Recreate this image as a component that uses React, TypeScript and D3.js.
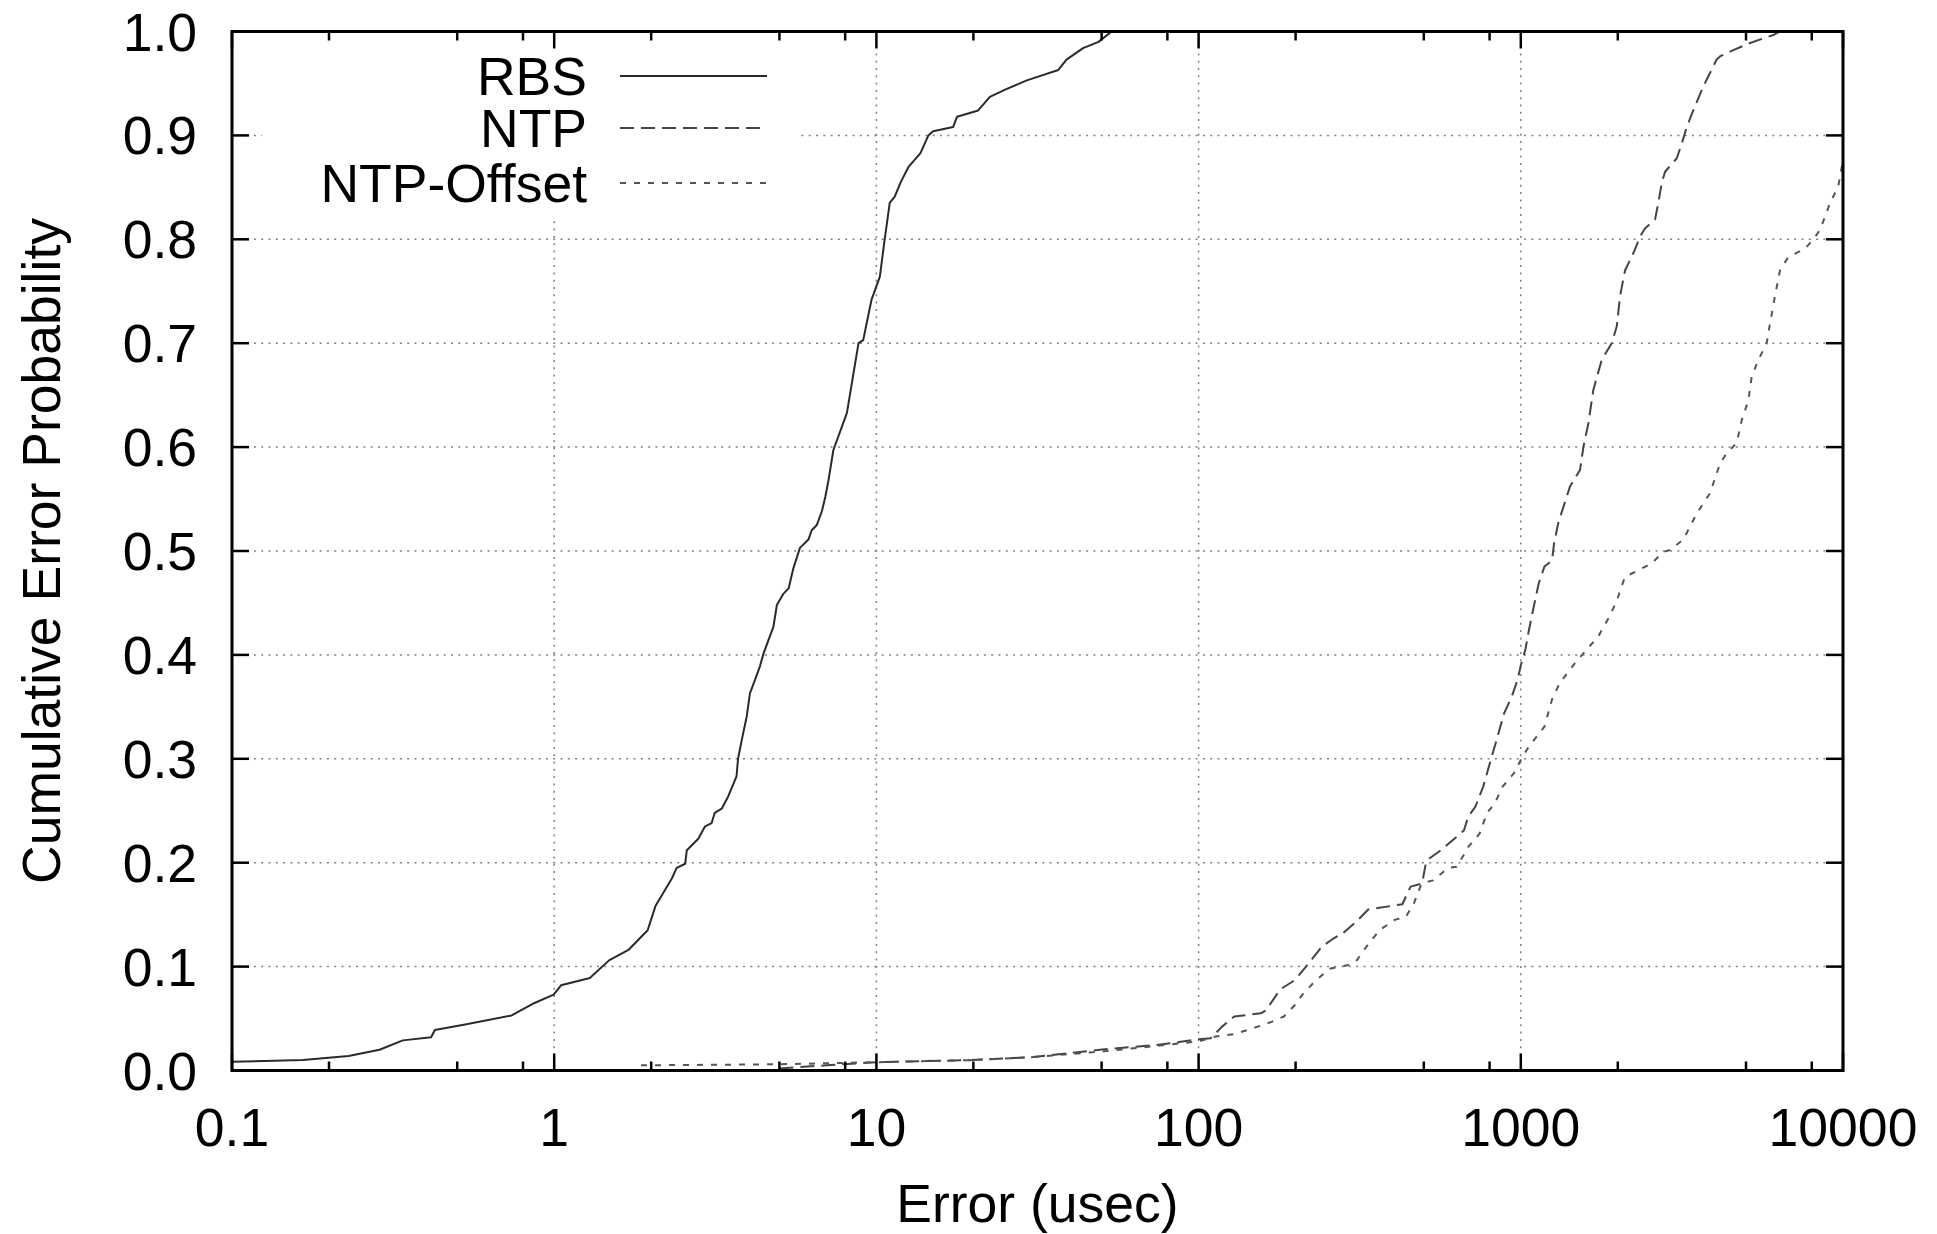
import React from "react";
import * as d3 from "d3";

// ---- data (x = error in usec, p = cumulative probability) ----
const rbsX = [0.1,0.166,0.23,0.287,0.339,0.415,0.426,0.524,0.738,0.869,0.996,1.05,1.29,1.48,1.70,1.95,2.06,2.32,2.40,2.55,2.58,2.80,2.94,3.08,3.15,3.31,3.47,3.68,3.72,3.82,3.96,4.05,4.20,4.35,4.46,4.62,4.79,4.91,5.15,5.34,5.52,5.79,6.15,6.30,6.53,6.77,6.94,7.10,7.35,8.10,8.80,9.1,9.66,10.25,10.6,11.0,11.4,11.9,12.6,13.7,14.5,15.0,17.3,17.8,20.7,22.5,25.1,29.3,36.7,38.9,43.8,48.9,53.7];
const rbsP = [0.0085,0.010,0.014,0.020,0.029,0.032,0.039,0.044,0.053,0.065,0.073,0.082,0.089,0.106,0.116,0.135,0.158,0.185,0.195,0.199,0.212,0.223,0.235,0.238,0.248,0.252,0.264,0.283,0.300,0.318,0.341,0.363,0.376,0.389,0.401,0.414,0.427,0.448,0.459,0.464,0.483,0.503,0.511,0.520,0.525,0.538,0.552,0.568,0.597,0.633,0.700,0.703,0.742,0.764,0.799,0.835,0.841,0.855,0.870,0.883,0.900,0.904,0.908,0.918,0.924,0.937,0.944,0.953,0.963,0.973,0.984,0.990,1.0];

const ntpX = [5.0,7,10,19.8,30.8,49.4,74,100,109,118,129,156,162,179,199,222,241,262,280,308,336,429,455,494,507,520,565,666,686,723,764,807,841,888,938,977,1000,1033,1060,1091,1137,1184,1250,1268,1307,1421,1527,1564,1621,1679,1783,1915,1985,2032,2106,2260,2344,2428,2610,2672,2737,2804,3049,3158,3273,3430,3683,3865,4053,4150,4567,5145,6078,6370];
const ntpP = [0.002,0.005,0.008,0.010,0.013,0.020,0.0245,0.030,0.031,0.042,0.052,0.055,0.058,0.078,0.087,0.105,0.119,0.127,0.132,0.143,0.155,0.160,0.177,0.180,0.199,0.204,0.212,0.231,0.244,0.254,0.273,0.299,0.318,0.344,0.360,0.376,0.390,0.405,0.424,0.443,0.469,0.485,0.491,0.507,0.527,0.562,0.578,0.600,0.623,0.655,0.684,0.700,0.716,0.745,0.770,0.790,0.8025,0.8105,0.819,0.835,0.854,0.865,0.878,0.892,0.908,0.924,0.947,0.960,0.973,0.976,0.982,0.989,0.9966,1.0];

const offX = [1.86,5,10,19.8,30.8,49,76,100,112,129,147,169,184,199,210,229,255,293,308,326,364,406,440,466,492,534,551,595,631,664,686,745,786,830,877,951,1000,1060,1184,1250,1321,1473,1599,1737,1885,1990,2104,2548,2763,2904,3194,3514,3865,4150,4355,4677,4851,5085,5209,5461,5797,5934,6147,6374,6766,7622,8091,8485,9120,9666,10000];
const offP = [0.005,0.006,0.008,0.010,0.013,0.018,0.024,0.028,0.0325,0.035,0.0405,0.047,0.052,0.063,0.073,0.0855,0.098,0.1015,0.105,0.116,0.135,0.145,0.148,0.161,0.180,0.183,0.1865,0.195,0.196,0.207,0.215,0.228,0.248,0.257,0.273,0.286,0.299,0.312,0.331,0.357,0.373,0.392,0.405,0.4175,0.437,0.453,0.475,0.488,0.499,0.501,0.511,0.536,0.5555,0.584,0.594,0.604,0.626,0.645,0.668,0.684,0.700,0.719,0.745,0.770,0.783,0.791,0.800,0.809,0.835,0.851,0.876];

const xTickValues = [0.1, 1, 10, 100, 1000, 10000];
const xTickLabels = ["0.1", "1", "10", "100", "1000", "10000"];
const xMinorMultipliers = [2, 5, 8];
const yTickValues = [0, 0.1, 0.2, 0.3, 0.4, 0.5, 0.6, 0.7, 0.8, 0.9, 1.0];
const yTickLabels = ["0.0", "0.1", "0.2", "0.3", "0.4", "0.5", "0.6", "0.7", "0.8", "0.9", "1.0"];
const seriesNames = ["RBS", "NTP", "NTP-Offset"];

const W = 1937, H = 1234;
const L = 232, R = 1843, T = 31.5, B = 1070.5;
const FONT = "'Liberation Sans', Arial, Helvetica, sans-serif";
const FS = 53.5;

export default function App() {
  const x = d3.scaleLog().domain([0.1, 10000]).range([L, R]);
  const y = d3.scaleLinear().domain([0, 1]).range([B, T]);
  const line = d3.line<[number, number]>().x((d) => x(d[0])).y((d) => y(d[1]));

  const zip = (xs: number[], ps: number[]) => xs.map((v, i) => [v, ps[i]] as [number, number]);
  const series = [
    { name: seriesNames[0], data: zip(rbsX, rbsP), stroke: "#2a2a2a", dash: undefined as string | undefined, w: 2 },
    { name: seriesNames[1], data: zip(ntpX, ntpP), stroke: "#444", dash: "14,7", w: 2 },
    { name: seriesNames[2], data: zip(offX, offP), stroke: "#555", dash: "6,8", w: 2 },
  ];

  const minorX: number[] = [];
  for (let i = 0; i < xTickValues.length - 1; i++) {
    xMinorMultipliers.forEach((m) => minorX.push(xTickValues[i] * m));
  }

  const gridStyle = { stroke: "#808080", strokeWidth: 1.5, strokeDasharray: "2,5.3" };
  const legendRows = [76, 128, 183];

  return (
    <svg width={W} height={H} style={{ position: "absolute", left: 0, top: 0, background: "#fff" }}
      fontFamily={FONT}>
      <rect x={0} y={0} width={W} height={H} fill="#fff" />
      <defs>
        <clipPath id="plotclip">
          <rect x={L} y={T - 2} width={R - L} height={B - T + 4} />
        </clipPath>
      </defs>
      {/* grid */}
      {yTickValues.slice(1, -1).map((v) => (
        <line key={"gy" + v} x1={L} x2={R} y1={y(v)} y2={y(v)} {...gridStyle} />
      ))}
      {xTickValues.slice(1, -1).map((v) => (
        <line key={"gx" + v} x1={x(v)} x2={x(v)} y1={T} y2={B} {...gridStyle} />
      ))}
      {/* opaque legend background */}
      <rect x={262} y={T + 2} width={538} height={183} fill="#fff" />
      {/* series */}
      <g clipPath="url(#plotclip)">
        {series.map((s) => (
          <path key={s.name} d={line(s.data) || ""} fill="none" stroke={s.stroke}
            strokeWidth={s.w} strokeDasharray={s.dash} strokeLinejoin="round" />
        ))}
      </g>
      {/* legend */}
      {series.map((s, i) => (
        <g key={"lg" + s.name}>
          <text x={587} y={legendRows[i] + 19} fontSize={FS} textAnchor="end" fill="#000">{s.name}</text>
          <line x1={620} x2={767} y1={legendRows[i]} y2={legendRows[i]} stroke={s.stroke}
            strokeWidth={s.w} strokeDasharray={s.dash} />
        </g>
      ))}
      {/* ticks */}
      {xTickValues.map((v) => (
        <g key={"xt" + v}>
          <line x1={x(v)} x2={x(v)} y1={B} y2={B - 17} stroke="#000" strokeWidth={2.5} />
          <line x1={x(v)} x2={x(v)} y1={T} y2={T + 17} stroke="#000" strokeWidth={2.5} />
        </g>
      ))}
      {minorX.map((v) => (
        <g key={"xm" + v}>
          <line x1={x(v)} x2={x(v)} y1={B} y2={B - 9} stroke="#000" strokeWidth={2.5} />
          <line x1={x(v)} x2={x(v)} y1={T} y2={T + 9} stroke="#000" strokeWidth={2.5} />
        </g>
      ))}
      {yTickValues.map((v) => (
        <g key={"yt" + v}>
          <line x1={L} x2={L + 17} y1={y(v)} y2={y(v)} stroke="#000" strokeWidth={2.5} />
          <line x1={R} x2={R - 17} y1={y(v)} y2={y(v)} stroke="#000" strokeWidth={2.5} />
        </g>
      ))}
      {/* frame */}
      <rect x={L} y={T} width={R - L} height={B - T} fill="none" stroke="#000" strokeWidth={3} />
      {/* tick labels */}
      {xTickValues.map((v, i) => (
        <text key={"xl" + v} x={x(v)} y={1146} fontSize={FS} textAnchor="middle" fill="#000">{xTickLabels[i]}</text>
      ))}
      {yTickValues.map((v, i) => (
        <text key={"yl" + v} x={197} y={y(v) + 19} fontSize={FS} textAnchor="end" fill="#000">{yTickLabels[i]}</text>
      ))}
      {/* axis titles */}
      <text x={(L + R) / 2} y={1222} fontSize={FS} textAnchor="middle" fill="#000">Error (usec)</text>
      <text transform={`translate(60, ${(T + B) / 2}) rotate(-90)`} fontSize={FS} textAnchor="middle" fill="#000">
        Cumulative Error Probability
      </text>
    </svg>
  );
}
